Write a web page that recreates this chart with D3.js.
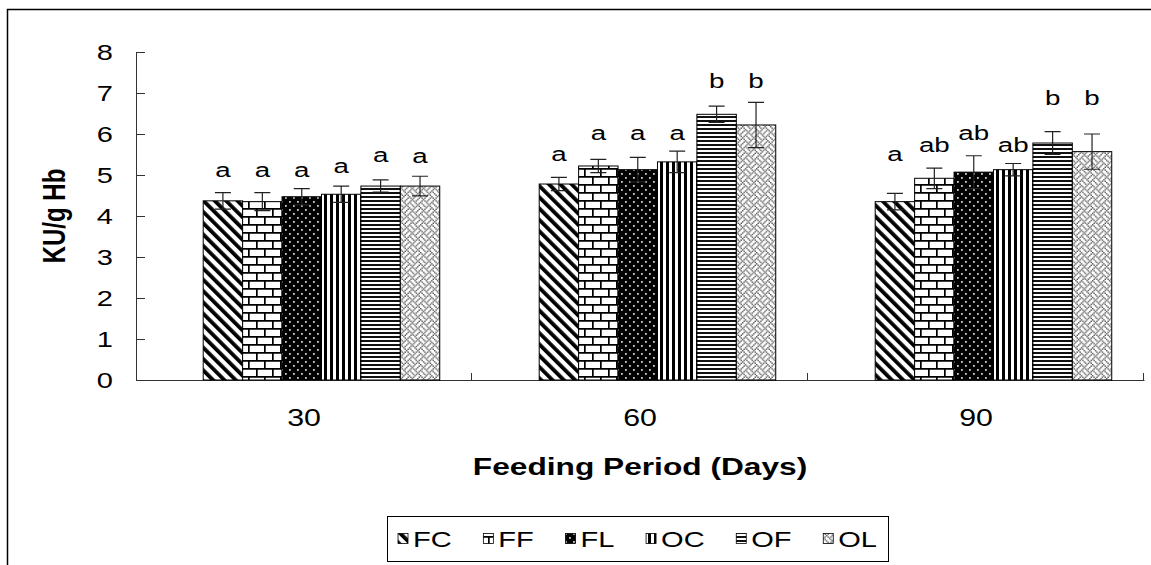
<!DOCTYPE html>
<html>
<head>
<meta charset="utf-8">
<script src="https://cdn.jsdelivr.net/npm/d3@7"></script>
<style>
  body { margin: 0; background: #fff; }
  text { font-family: "Liberation Sans", Arial, sans-serif; fill: #000; }
</style>
</head>
<body>
<div id="chart"></div>
<script>

// DATA
// ----------------------------------------------------------------
var days = ['30', '60', '90'];
var groups = ['FC', 'FF', 'FL', 'OC', 'OF', 'OL'];
var yTicks = [0, 1, 2, 3, 4, 5, 6, 7, 8];

// mean KU/g Hb per feeding period
var valFC = [4.37, 4.78, 4.35];
var valFF = [4.35, 5.22, 4.92];
var valFL = [4.47, 5.13, 5.07];
var valOC = [4.53, 5.32, 5.13];
var valOF = [4.73, 6.48, 5.78];
var valOL = [4.73, 6.22, 5.57];

// error bar half-heights
var errFC = [0.20, 0.16, 0.20];
var errFF = [0.22, 0.16, 0.25];
var errFL = [0.20, 0.30, 0.40];
var errOC = [0.20, 0.26, 0.15];
var errOF = [0.15, 0.20, 0.28];
var errOL = [0.24, 0.55, 0.43];

// significance letters and the level (KU/g Hb) they sit at
var sigFC = ['a', 'a', 'a'];
var sigFF = ['a', 'a', 'ab'];
var sigFL = ['a', 'a', 'ab'];
var sigOC = ['a', 'a', 'ab'];
var sigOF = ['a', 'b', 'b'];
var sigOL = ['a', 'b', 'b'];

var sigAtFC = [4.96, 5.33, 5.33];
var sigAtFF = [4.96, 5.86, 5.55];
var sigAtFL = [4.96, 5.86, 5.86];
var sigAtOC = [5.05, 5.86, 5.55];
var sigAtOF = [5.32, 7.12, 6.71];
var sigAtOL = [5.30, 7.12, 6.71];

var vals = { FC: valFC, FF: valFF, FL: valFL, OC: valOC, OF: valOF, OL: valOL };
var errs = { FC: errFC, FF: errFF, FL: errFL, OC: errOC, OF: errOF, OL: errOL };
var sigs = { FC: sigFC, FF: sigFF, FL: sigFL, OC: sigOC, OF: sigOF, OL: sigOL };
var sigAt = { FC: sigAtFC, FF: sigAtFF, FL: sigAtFL, OC: sigAtOC, OF: sigAtOF, OL: sigAtOL };

var rows = [];
days.forEach(function (day, i) {
    groups.forEach(function (g) {
        rows.push({ day: day, key: g, v: vals[g][i], e: errs[g][i], sig: sigs[g][i], sigAt: sigAt[g][i] });
    });
});

// LAYOUT
// ----------------------------------------------------------------
var _width = 1151,
    _height = 565,
    _left = 136,
    _right = 1144,
    _top = 52,
    _bottom = 380,
    _sx = 1.32; // the source chart was stretched sideways, text too

var svg = d3.select('#chart').append('svg')
    .attr('width', _width)
    .attr('height', _height);

// stretched text helper
var place = function (sel, x, y, rot) {
    sel.attr('transform', 'translate(' + x + ',' + y + ') scale(' + _sx + ',1)' + (rot ? ' rotate(' + rot + ')' : ''));
};

// PATTERNS
// ----------------------------------------------------------------
var defs = svg.append('defs');

var pFC = defs.append('pattern').attr('id', 'pat-FC')
    .attr('patternUnits', 'userSpaceOnUse').attr('width', 8).attr('height', 8)
    .attr('patternTransform', 'rotate(-45)');
pFC.append('rect').attr('width', 8).attr('height', 8).attr('fill', '#fff');
pFC.append('rect').attr('width', 3.8).attr('height', 8).attr('fill', '#000');

var pFF = defs.append('pattern').attr('id', 'pat-FF')
    .attr('patternUnits', 'userSpaceOnUse').attr('width', 16).attr('height', 16);
pFF.append('rect').attr('width', 16).attr('height', 16).attr('fill', '#fff');
pFF.append('path').attr('fill', '#000')
    .attr('d', 'M0,0H16V1.7H0Z M0,8H16V9.7H0Z M0,0H1.7V8H0Z M8,8H9.7V16H8Z');

var pFL = defs.append('pattern').attr('id', 'pat-FL')
    .attr('patternUnits', 'userSpaceOnUse').attr('width', 8).attr('height', 8);
pFL.append('rect').attr('width', 8).attr('height', 8).attr('fill', '#000');
pFL.append('rect').attr('x', 1).attr('y', 1).attr('width', 1.8).attr('height', 1.8).attr('fill', '#ccc');
pFL.append('rect').attr('x', 5).attr('y', 5).attr('width', 1.8).attr('height', 1.8).attr('fill', '#ccc');

var pOC = defs.append('pattern').attr('id', 'pat-OC')
    .attr('patternUnits', 'userSpaceOnUse').attr('width', 6).attr('height', 6);
pOC.append('rect').attr('width', 6).attr('height', 6).attr('fill', '#fff');
pOC.append('rect').attr('width', 3).attr('height', 6).attr('fill', '#000');

var pOF = defs.append('pattern').attr('id', 'pat-OF')
    .attr('patternUnits', 'userSpaceOnUse').attr('width', 4).attr('height', 4);
pOF.append('rect').attr('width', 4).attr('height', 4).attr('fill', '#fff');
pOF.append('rect').attr('width', 4).attr('height', 2).attr('fill', '#111');

// weave bitmap, 8x8
var weave = ['10001000', '01010100', '00100010', '01010001', '10001000', '00010101', '00100010', '01000101'];
var cell = 1.4;
var pOL = defs.append('pattern').attr('id', 'pat-OL')
    .attr('patternUnits', 'userSpaceOnUse').attr('width', 8 * cell).attr('height', 8 * cell);
pOL.append('rect').attr('width', 8 * cell).attr('height', 8 * cell).attr('fill', '#fff');
weave.forEach(function (row, r) {
    row.split('').forEach(function (b, c) {
        if (b === '1') {
            pOL.append('rect').attr('x', c * cell).attr('y', r * cell)
                .attr('width', cell).attr('height', cell).attr('fill', '#555');
        }
    });
});

// FRAME
// ----------------------------------------------------------------
svg.append('path')
    .attr('d', 'M7.5,' + _height + 'V9.5H' + _width)
    .attr('fill', 'none').attr('stroke', '#000').attr('stroke-width', 1.5);

// SCALES / AXES
// ----------------------------------------------------------------
var x0 = d3.scaleBand().domain(days).range([_left, _right]).padding(0);
var x1 = d3.scaleBand().domain(groups)
    .range([x0.bandwidth() * 0.2, x0.bandwidth() * 0.904]).padding(0);
var y = d3.scaleLinear().domain([0, 8]).range([_bottom, _top]);

var gY = svg.append('g')
    .attr('transform', 'translate(' + _left + ',0)')
    .call(d3.axisLeft(y).tickValues(yTicks).tickSizeInner(-9).tickSizeOuter(0).tickPadding(23));
gY.selectAll('path, line').attr('stroke', '#333');
gY.selectAll('text')
    .attr('x', null)
    .style('font-size', '22px')
    .style('font-family', '"Liberation Sans", Arial, sans-serif')
    .attr('fill', '#000')
    .call(place, -23, 0);

var gX = svg.append('g')
    .attr('transform', 'translate(0,' + _bottom + ')')
    .call(d3.axisBottom(x0).tickSize(0).tickPadding(0));
gX.select('.domain').attr('stroke', '#333');
gX.selectAll('text')
    .attr('y', null).attr('dy', null)
    .style('font-size', '23px')
    .style('font-family', '"Liberation Sans", Arial, sans-serif')
    .attr('fill', '#000')
    .call(place, 0, 46);

// category boundary ticks (upward)
svg.append('g').selectAll('line')
    .data(days)
    .enter().append('line')
    .attr('x1', function (d) { return Math.round(x0(d) + x0.bandwidth()) - 0.5; })
    .attr('x2', function (d) { return Math.round(x0(d) + x0.bandwidth()) - 0.5; })
    .attr('y1', _bottom)
    .attr('y2', _bottom - 7)
    .attr('stroke', '#333');

// axis titles
svg.append('text')
    .attr('text-anchor', 'middle')
    .style('font-size', '24px').style('font-weight', 'bold')
    .text('Feeding Period (Days)')
    .call(place, (_left + _right) / 2, 475);

svg.append('text')
    .attr('text-anchor', 'middle')
    .style('font-size', '24px').style('font-weight', 'bold')
    .text('KU/g Hb')
    .call(place, 65, (_top + _bottom) / 2, -90);

// BARS
// ----------------------------------------------------------------
var gBars = svg.append('g');
var bx = function (d) { return x0(d.day) + x1(d.key); };

gBars.selectAll('rect')
    .data(rows)
    .enter().append('rect')
    .attr('x', bx)
    .attr('y', function (d) { return y(d.v); })
    .attr('width', x1.bandwidth())
    .attr('height', function (d) { return y(0) - y(d.v); })
    .attr('fill', function (d) { return 'url(#pat-' + d.key + ')'; })
    .attr('stroke', '#000')
    .attr('stroke-width', 1);

// ERROR BARS
// ----------------------------------------------------------------
var cap = 8;
var gErr = svg.append('g').attr('stroke', '#222').attr('stroke-width', 1.2).attr('fill', 'none');
gErr.selectAll('path')
    .data(rows)
    .enter().append('path')
    .attr('d', function (d) {
        var cx = bx(d) + x1.bandwidth() / 2,
            hi = y(d.v + d.e),
            lo = y(d.v - d.e);
        return 'M' + (cx - cap) + ',' + hi + 'H' + (cx + cap) +
               'M' + cx + ',' + hi + 'V' + lo +
               'M' + (cx - cap) + ',' + lo + 'H' + (cx + cap);
    });

// LETTERS
// ----------------------------------------------------------------
svg.append('g').selectAll('text')
    .data(rows)
    .enter().append('text')
    .attr('text-anchor', 'middle')
    .style('font-size', '21px')
    .text(function (d) { return d.sig; })
    .each(function (d) {
        d3.select(this).call(place, bx(d) + x1.bandwidth() / 2, y(d.sigAt));
    });

// LEGEND
// ----------------------------------------------------------------
var lgLeft = 387, lgRight = 888, lgTop = 516, lgBottom = 561,
    lgPad = 11, sw = 10, swGap = 5;
var lgMid = (lgTop + lgBottom) / 2;

var gLegend = svg.append('g');
gLegend.append('rect')
    .attr('x', lgLeft + 0.5).attr('y', lgTop + 0.5)
    .attr('width', lgRight - lgLeft).attr('height', lgBottom - lgTop)
    .attr('fill', '#fff').attr('stroke', '#000').attr('stroke-width', 1);

var items = gLegend.selectAll('g.item')
    .data(groups)
    .enter().append('g').attr('class', 'item');

items.append('rect')
    .attr('width', sw).attr('height', sw)
    .attr('y', lgMid - sw / 2)
    .attr('fill', function (d) { return 'url(#pat-' + d + ')'; })
    .attr('stroke', '#000').attr('stroke-width', 0.8);

var labels = items.append('text')
    .style('font-size', '22px')
    .text(function (d) { return d; });

var widths = [];
labels.each(function () { widths.push(this.getComputedTextLength() * _sx); });
var content = d3.sum(widths) + groups.length * (sw + swGap);
var gap = (lgRight - lgLeft - 2 * lgPad - content) / (groups.length - 1);

var cx = lgLeft + lgPad;
items.each(function (d, i) {
    var g = d3.select(this);
    g.select('rect').attr('x', cx);
    g.select('text').call(place, cx + sw + swGap, lgMid + 8);
    cx += sw + swGap + widths[i] + gap;
});

</script>
</body>
</html>
